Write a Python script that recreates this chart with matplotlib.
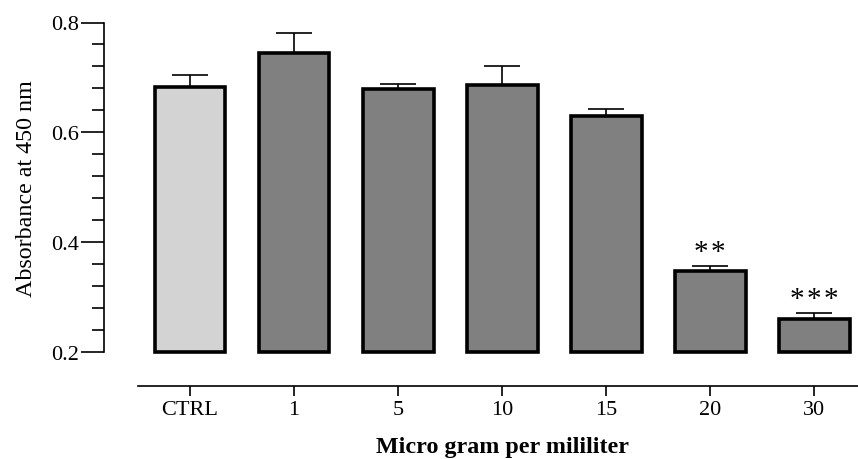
import matplotlib
matplotlib.use("Agg")
from matplotlib import pyplot as plt
from matplotlib.ticker import MultipleLocator, FormatStrFormatter

# absorbance readings per dose (mean and upper error)
labels = ["CTRL", "1", "5", "10", "15", "20", "30"]
means = [0.683, 0.745, 0.678, 0.686, 0.629, 0.348, 0.260]
errors = [0.021, 0.035, 0.010, 0.035, 0.014, 0.009, 0.011]
stars = ["", "", "", "", "", "*\u200a*", "*\u200a*\u200a*"]
colors = ["#d3d3d3"] + ["#808080"] * 6

plt.rcParams["font.family"] = ["Liberation Serif", "DejaVu Serif"]

fig = plt.figure(dpi=100, figsize=(8.58, 4.6))
ax = fig.add_axes([104 / 858, 107 / 460, 754 / 858, 329.5 / 460])

x = list(range(len(labels)))
base = 0.2
heights = [m - base for m in means]
ax.bar(x, heights, bottom=base, width=0.68, color=colors,
       edgecolor="black", linewidth=2.6, zorder=3, clip_on=False)
ax.errorbar(x, means, yerr=[[0] * len(errors), errors], fmt="none",
            ecolor="black", elinewidth=1.2, capsize=13.3, capthick=1.2,
            zorder=2, clip_on=False)

for i, s in enumerate(stars):
    if s:
        ax.text(i, means[i] + errors[i] + 0.001, s, ha="center", va="bottom",
                fontsize=21)

ax.set_ylim(0.2, 0.8)
ax.set_xlim(-0.827, 6.42)
ax.yaxis.set_major_locator(MultipleLocator(0.2))
ax.yaxis.set_minor_locator(MultipleLocator(0.04))
ax.set_xticks(x)
ax.set_xticklabels(labels)

for side in ["top", "right"]:
    ax.spines[side].set_visible(False)
ax.spines["left"].set_linewidth(1.2)
ax.spines["bottom"].set_linewidth(1.2)
ax.spines["bottom"].set_position(("outward", 24.5))
ax.spines["bottom"].set_bounds(-0.5, 6.42)

ax.tick_params(axis="y", which="major", length=16.5, width=1.2, pad=1.5,
               labelsize=16)
ax.tick_params(axis="y", which="minor", length=9, width=1.2)
ax.tick_params(axis="x", which="major", length=7, width=1.2, pad=3,
               labelsize=16)
ax.yaxis.set_major_formatter(FormatStrFormatter("%.1f"))

ax.set_ylabel("Absorbance at 450 nm", fontsize=17.3, labelpad=10)
ax.set_xlabel("Micro gram per mililiter", fontsize=17.3, fontweight="bold")
ax.xaxis.set_label_coords((503 - 104) / 754, -0.255)

fig.savefig("out.png", dpi=100)
